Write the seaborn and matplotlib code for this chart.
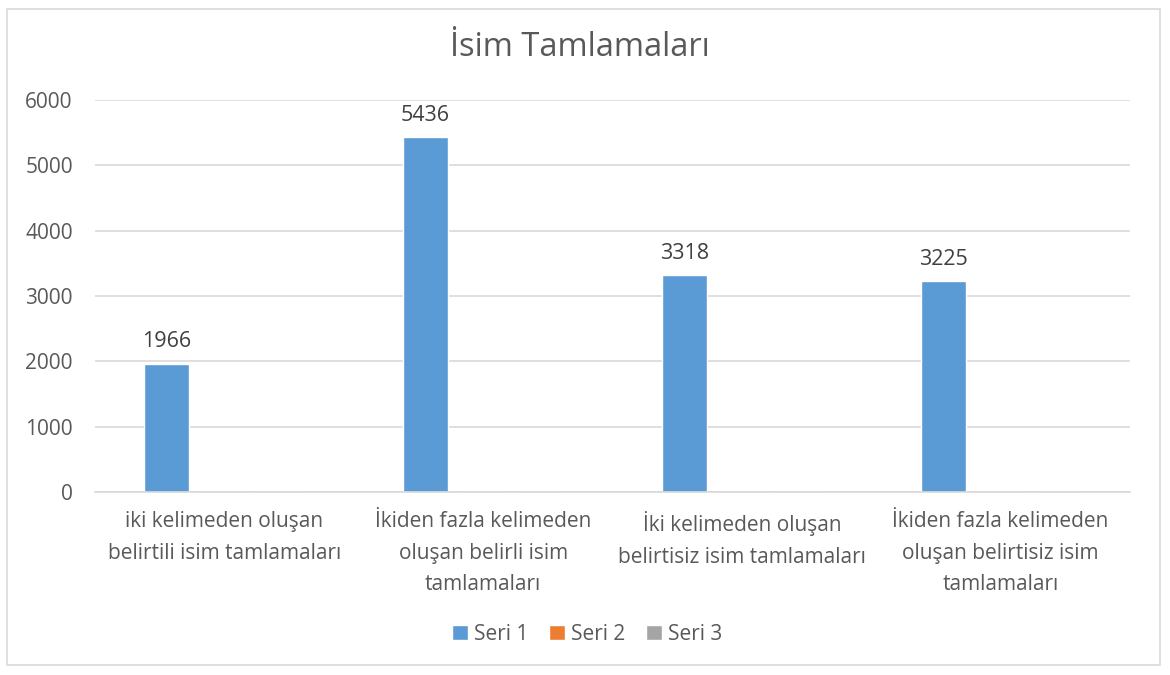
import matplotlib
matplotlib.use("Agg")
import matplotlib.pyplot as plt
import seaborn as sns
import pandas as pd
from matplotlib.patches import Rectangle

# chart data
categories = [
    "iki kelimeden oluşan\nbelirtili isim tamlamaları",
    "İkiden fazla kelimeden\noluşan belirli isim\ntamlamaları",
    "İki kelimeden oluşan\nbelirtisiz isim tamlamaları",
    "İkiden fazla kelimeden\noluşan belirtisiz isim\ntamlamaları",
]
series_names = ["Seri 1", "Seri 2", "Seri 3"]
seri1 = [1966, 5436, 3318, 3225]
seri2 = [0, 0, 0, 0]
seri3 = [0, 0, 0, 0]
colors = ["#5b9bd5", "#ed7d31", "#a5a5a5"]

df = pd.DataFrame({
    "kategori": categories * 3,
    "seri": [s for s in series_names for _ in categories],
    "deger": seri1 + seri2 + seri3,
})

sns.set_style("white")
plt.rcParams["font.family"] = ["Open Sans", "DejaVu Sans"]
text_color = "#595959"

fig = plt.figure(figsize=(11.7, 6.75), dpi=100)
ax = fig.add_axes([95 / 1170, 1 - 492 / 675, 1035 / 1170, 392 / 675])

sns.barplot(data=df, x="kategori", y="deger", hue="seri", palette=colors,
            width=0.667, gap=0.22, ax=ax, legend=True, saturation=1)

# value labels for the first series only
for cont, name in zip(ax.containers, series_names):
    if name == "Seri 1":
        ax.bar_label(cont, labels=[str(v) for v in seri1], padding=8,
                     fontsize=15.5, color="#404040")

ax.set_ylim(0, 6000)
ax.set_yticks(range(0, 6001, 1000))
ax.set_xlim(-0.5, len(categories) - 0.5)
ax.yaxis.grid(True, color="#d9d9d9", linewidth=1.2)
ax.set_axisbelow(True)
for side in ["top", "right", "left"]:
    ax.spines[side].set_visible(False)
ax.spines["bottom"].set_color("#d9d9d9")
ax.spines["bottom"].set_linewidth(1.2)
ax.tick_params(axis="both", length=0, colors=text_color)
ax.tick_params(axis="y", pad=16, labelsize=15)
ax.tick_params(axis="x", pad=14, labelsize=15)
ax.set_xlabel("")
ax.set_ylabel("")
for lbl in ax.get_xticklabels():
    lbl.set_linespacing(1.65)

# title and legend are centred on the whole chart, not the plot area
fig.text(580 / 1170, 1 - 47 / 675, "İsim Tamlamaları", fontsize=23.5,
         color=text_color, ha="center", va="center")

handles, labels = ax.get_legend_handles_labels()
ax.legend().remove()
fig.legend(handles, labels, loc="center", bbox_to_anchor=(587 / 1170, 1 - 634 / 675),
           ncol=3, frameon=False, fontsize=15, handlelength=0.75, handleheight=0.75,
           handletextpad=0.3, columnspacing=1.0, labelcolor=text_color)

# outer chart border
fig.patches.append(Rectangle((7 / 1170, 10 / 675), 1153 / 1170, 656 / 675,
                             transform=fig.transFigure, fill=False,
                             edgecolor="#d9d9d9", linewidth=1.2))

fig.savefig("out.png", dpi=100)
